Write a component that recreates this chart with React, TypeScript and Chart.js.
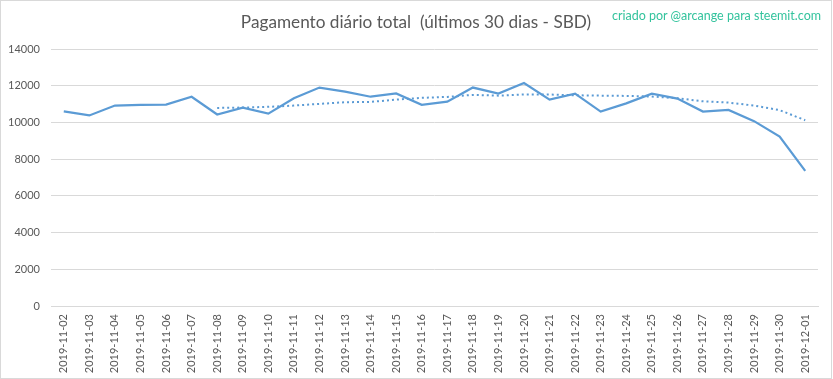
import React, { useEffect, useRef } from "react";
import { Chart, registerables } from "chart.js";

Chart.register(...registerables);

const categories = [
  "2019-11-02", "2019-11-03", "2019-11-04", "2019-11-05", "2019-11-06",
  "2019-11-07", "2019-11-08", "2019-11-09", "2019-11-10", "2019-11-11",
  "2019-11-12", "2019-11-13", "2019-11-14", "2019-11-15", "2019-11-16",
  "2019-11-17", "2019-11-18", "2019-11-19", "2019-11-20", "2019-11-21",
  "2019-11-22", "2019-11-23", "2019-11-24", "2019-11-25", "2019-11-26",
  "2019-11-27", "2019-11-28", "2019-11-29", "2019-11-30", "2019-12-01",
];

const dailyPayout = [
  10600, 10380, 10920, 10960, 10970, 11400, 10430, 10800, 10480, 11320,
  11900, 11680, 11400, 11580, 10960, 11130, 11900, 11570, 12150, 11240,
  11570, 10590, 11040, 11570, 11300, 10590, 10680, 10070, 9230, 7360,
];

const movingAverage = [
  null, null, null, null, null, null, 10790, 10810, 10850, 10920,
  11010, 11100, 11120, 11240, 11340, 11390, 11500, 11460, 11520, 11520,
  11480, 11460, 11445, 11410, 11320, 11150, 11080, 10920, 10670, 10120,
];

const yTicks = [0, 2000, 4000, 6000, 8000, 10000, 12000, 14000];

const titleText = "Pagamento diário total  (últimos 30 dias - SBD)";
const creditText = "criado por @arcange para steemit.com";

export default function App() {
  const canvasRef = useRef<HTMLCanvasElement | null>(null);

  useEffect(() => {
    document.body.style.margin = "0";
    const canvas = canvasRef.current;
    if (!canvas) return;
    const chart = new Chart(canvas, {
      type: "line",
      data: {
        labels: categories,
        datasets: [
          {
            data: dailyPayout,
            borderColor: "#5B9BD5",
            borderWidth: 2.25,
            pointRadius: 0,
            tension: 0,
            fill: false,
          },
          {
            data: movingAverage,
            borderColor: "#5B9BD5",
            borderWidth: 2,
            borderDash: [2, 3],
            pointRadius: 0,
            tension: 0,
            fill: false,
          },
        ],
      },
      options: {
        animation: false,
        responsive: false,
        layout: { padding: { left: 0, top: 49, right: 15, bottom: 0 } },
        plugins: {
          legend: { display: false },
          tooltip: { enabled: false },
          title: { display: false },
        },
        scales: {
          x: {
            type: "category",
            offset: true,
            grid: { display: false, drawTicks: false },
            border: { display: true, color: "#d9d9d9", width: 1 },
            ticks: {
              autoSkip: false,
              maxRotation: 90,
              minRotation: 90,
              padding: 8,
              color: "#595959",
              font: { family: "Lato", size: 11 },
            },
            afterFit: (scale: any) => {
              scale.height = 73;
            },
          },
          y: {
            min: 0,
            max: 14000,
            afterBuildTicks: (scale: any) => {
              scale.ticks = yTicks.map((v) => ({ value: v }));
            },
            grid: { color: "#d9d9d9", lineWidth: 1, drawTicks: false },
            border: { display: false },
            ticks: {
              padding: 11,
              color: "#595959",
              font: { family: "Lato", size: 11 },
              callback: (value: any) => String(value),
            },
            afterFit: (scale: any) => {
              scale.width = 51;
            },
          },
        },
      },
    });
    return () => chart.destroy();
  }, []);

  return (
    <div
      style={{
        position: "absolute",
        left: 0,
        top: 0,
        width: 833,
        height: 379,
        background: "#ffffff",
      }}
    >
      <div
        style={{
          position: "absolute",
          left: 0,
          top: 0,
          width: 832,
          height: 379,
          boxSizing: "border-box",
          border: "1px solid #d9d9d9",
        }}
      />
      <canvas
        ref={canvasRef}
        width={833}
        height={379}
        style={{ position: "absolute", left: 0, top: 0, width: 833, height: 379 }}
      />
      <div
        style={{
          position: "absolute",
          left: 0,
          width: 832,
          top: 10,
          textAlign: "center",
          fontFamily: "Lato",
          fontSize: 17.2,
          color: "#595959",
          whiteSpace: "pre",
          lineHeight: "24px",
        }}
      >
        {titleText}
      </div>
      <div
        style={{
          position: "absolute",
          right: 12,
          top: 8,
          fontFamily: "Lato",
          fontSize: 12.5,
          color: "#33C39D",
          whiteSpace: "pre",
          lineHeight: "16px",
        }}
      >
        {creditText}
      </div>
    </div>
  );
}
